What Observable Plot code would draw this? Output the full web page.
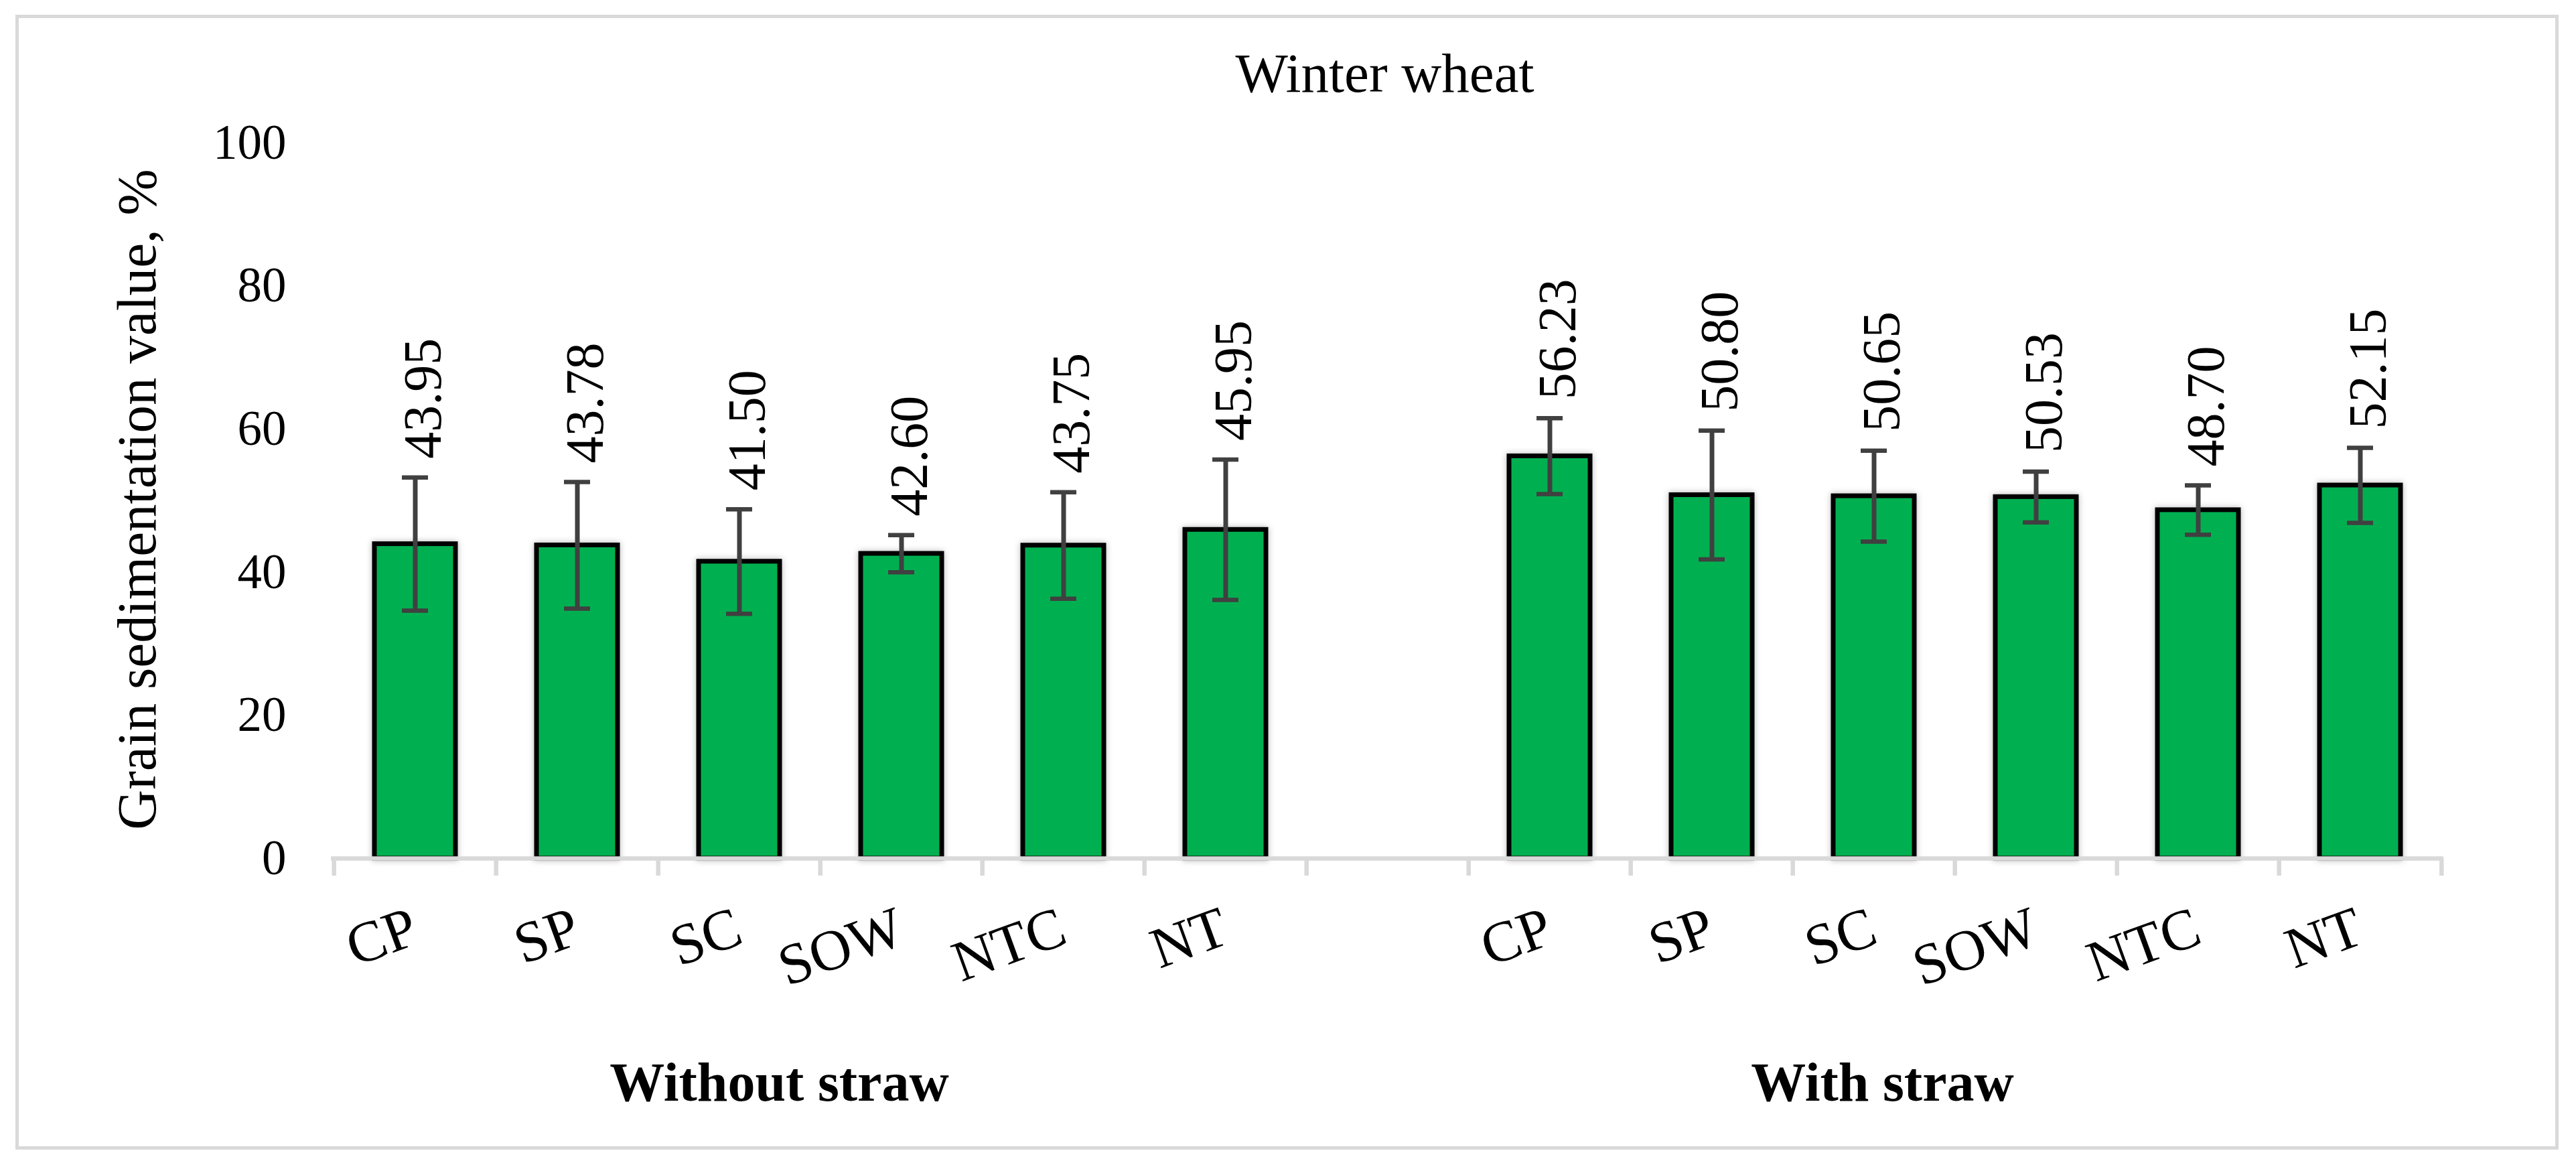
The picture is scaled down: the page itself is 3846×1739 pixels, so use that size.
<!DOCTYPE html>
<html>
<head>
<meta charset="utf-8">
<script src="https://cdn.jsdelivr.net/npm/d3@7"></script>
<script src="https://cdn.jsdelivr.net/npm/@observablehq/plot@0.6"></script>
<style>
  html, body { margin: 0; padding: 0; background: #ffffff; overflow: hidden; }
  #chart { width: 3846px; height: 1739px; }
</style>
</head>
<body>
<div id="chart"></div>
<script>
// ---- data ----
const categories = ["CP", "SP", "SC", "SOW", "NTC", "NT"];
const groups = ["Without straw", "With straw"];
const valuesWithout = [43.95, 43.78, 41.50, 42.60, 43.75, 45.95];
const errorsWithout = [9.3, 8.85, 7.3, 2.6, 7.45, 9.8];
const valuesWith = [56.23, 50.80, 50.65, 50.53, 48.70, 52.15];
const errorsWith = [5.3, 9.0, 6.35, 3.55, 3.45, 5.25];
const yTicks = [0, 20, 40, 60, 80, 100];
const title = "Winter wheat";
const yLabel = "Grain sedimentation value, %";

// ---- table built from the arrays ----
const groupValues = [valuesWithout, valuesWith];
const groupErrors = [errorsWithout, errorsWith];
const rows = groups.flatMap((g, gi) =>
  categories.map((c, ci) => ({
    group: g,
    category: c,
    key: g + "|" + c,
    value: groupValues[gi][ci],
    error: groupErrors[gi][ci]
  }))
);
const gapKey = "gap";
const xDomain = [
  ...rows.filter(d => d.group === groups[0]).map(d => d.key),
  gapKey,
  ...rows.filter(d => d.group === groups[1]).map(d => d.key)
];

const W = 3846, H = 1739;
const mL = 494, mR = 198, mT = 213, mB = 458;
const step = (W - mL - mR) / xDomain.length;
const font = "'Liberation Serif', 'Times New Roman', Times, serif";
const green = "#00B050";
const errColor = "#404040";
const axisGray = "#D9D9D9";

const chart = Plot.plot({
  width: W,
  height: H,
  marginLeft: mL,
  marginRight: mR,
  marginTop: mT,
  marginBottom: mB,
  style: { fontFamily: font, background: "#ffffff", color: "#000000", overflow: "visible" },
  x: { type: "band", domain: xDomain, paddingInner: 0.5, paddingOuter: 0.25, axis: null },
  y: { domain: [0, 100], axis: null },
  marks: [
    // outer chart border
    Plot.frame({ stroke: axisGray, strokeWidth: 5, insetTop: -189, insetLeft: -469, insetRight: -169, insetBottom: -432 }),
    // bars
    Plot.barY(rows, { x: "key", y: "value", fill: green, stroke: "#000000", strokeWidth: 7 }),
    // error bars
    Plot.ruleX(rows, { x: "key", y1: d => d.value - d.error, y2: d => d.value + d.error, stroke: errColor, strokeWidth: 7 }),
    Plot.tickY(rows, { x: "key", y: d => d.value + d.error, stroke: errColor, strokeWidth: 6.5, insetLeft: 41, insetRight: 41 }),
    Plot.tickY(rows, { x: "key", y: d => d.value - d.error, stroke: errColor, strokeWidth: 6.5, insetLeft: 41, insetRight: 41 }),
    // x baseline and tick marks between categories
    Plot.ruleY([0], { stroke: axisGray, strokeWidth: 6.5 }),
    Plot.ruleX(xDomain, { x: d => d, y1: () => 0, y2: () => 0, insetBottom: -26, dx: -step / 2, stroke: axisGray, strokeWidth: 6.5 }),
    Plot.ruleX([xDomain[xDomain.length - 1]], { x: d => d, y1: () => 0, y2: () => 0, insetBottom: -26, dx: step / 2, stroke: axisGray, strokeWidth: 6.5 }),
    // y axis
    Plot.axisY({ ticks: yTicks, tickSize: 0, tickPadding: 67, fontSize: 73, label: null, tickFormat: d => String(d) }),
    // data labels
    Plot.text(rows, {
      x: "key", y: d => d.value + d.error, text: d => d.value.toFixed(2),
      rotate: -90, textAnchor: "start", lineAnchor: "middle", dx: 12, dy: -28,
      fontSize: 80, fill: "#000000"
    }),
    // category labels
    Plot.text(rows, {
      x: "key", frameAnchor: "bottom", text: "category",
      rotate: -20, textAnchor: "end", lineAnchor: "top", dx: -12, dy: 68,
      fontSize: 86, fill: "#000000"
    }),
    // group labels
    Plot.text([groups[0]], { frameAnchor: "bottom-left", text: d => d, textAnchor: "middle", lineAnchor: "middle", dx: 669, dy: 335, fontSize: 82, fontWeight: "bold", fill: "#000000" }),
    Plot.text([groups[1]], { frameAnchor: "bottom-left", text: d => d, textAnchor: "middle", lineAnchor: "middle", dx: 2316, dy: 335, fontSize: 82, fontWeight: "bold", fill: "#000000" }),
    // title
    Plot.text([title], { frameAnchor: "top", text: d => d, textAnchor: "middle", lineAnchor: "middle", dx: -4, dy: -103, fontSize: 83, fill: "#000000" }),
    // y-axis title
    Plot.text([yLabel], { frameAnchor: "left", text: d => d, rotate: -90, textAnchor: "middle", lineAnchor: "middle", dx: -289, dy: -2, fontSize: 83, fill: "#000000" })
  ]
});

d3.select(chart).selectAll('g[aria-label="bar"] rect')
  .style("filter", "drop-shadow(0px 0px 5px rgba(0,0,0,0.28))");

document.getElementById("chart").appendChild(chart);
</script>
</body>
</html>
